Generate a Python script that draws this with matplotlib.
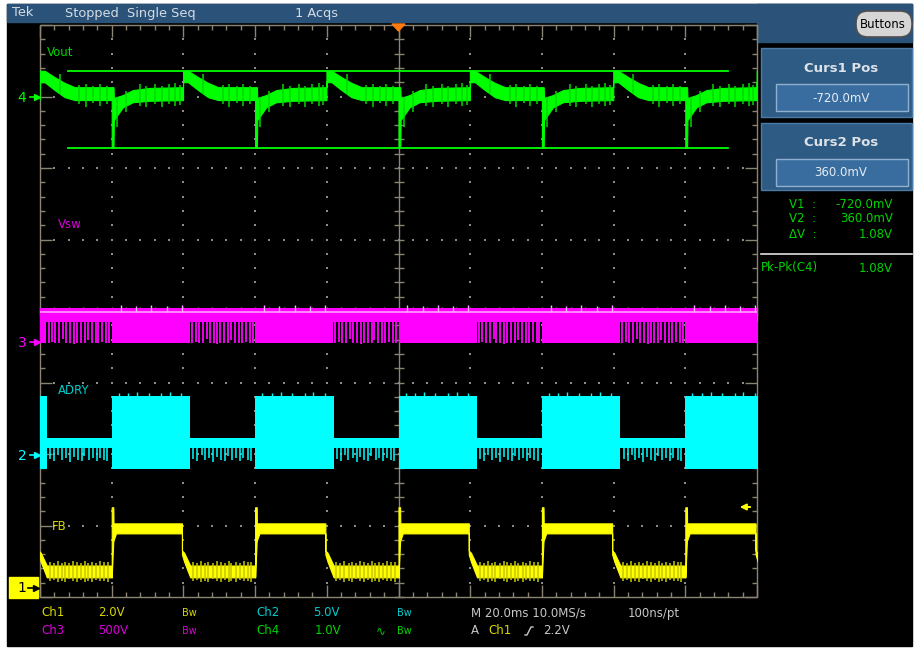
import matplotlib
matplotlib.use("Agg")
import matplotlib.pyplot as plt
from matplotlib.patches import Rectangle, FancyBboxPatch, Polygon

# ---------------- data ----------------
burst_start_ms = [-120, -80, -40, 0, 40, 80]     # start of each drive burst (ms from trigger)

# Ch4  Vout (AC, V) : envelope of one period, time relative to burst start
vout_t     = [0.0, 0.0, 0.5, 0.6, 3.1, 5.9, 10.6, 19.9, 19.9, 21.3, 24.1, 26.9, 29.7, 40.0]
vout_upper = [0.13, 0.13, 0.13, -0.02, 0.02, 0.09, 0.12, 0.13, 0.36, 0.36, 0.27, 0.19, 0.13, 0.13]
vout_lower = [-0.05, -0.72, -0.72, -0.33, -0.15, -0.08, -0.06, -0.05, 0.20, 0.20, 0.09, -0.01, -0.05, -0.05]
vout_noise_t  = [1.5, 4.0, 7.8, 9.6, 12.2, 13.9, 16.0, 17.7, 19.0, 25.5, 31.0, 32.8, 34.9, 36.6, 38.6]
vout_noise_hi = [0.0, 0.08, 0.17, 0.14, 0.18, 0.15, 0.17, 0.19, 0.16, 0.31, 0.16, 0.18, 0.14, 0.17, 0.15]
vout_noise_lo = [-0.42, -0.22, -0.13, -0.15, -0.11, -0.14, -0.10, -0.13, -0.12, 0.04, -0.11, -0.14, -0.09, -0.13, -0.11]
cursor_v = [-0.72, 0.36]

# Ch3  Vsw (V)
vsw_full_end = 21.8
vsw_top, vsw_line, vsw_mid, vsw_bottom = 235, 208, 138, -10
vsw_stripe_t = [22.4, 23.4, 24.3, 25.4, 26.5, 27.3, 28.4, 29.5, 30.3, 31.4,
                32.5, 33.3, 34.4, 35.5, 36.3, 37.4, 38.5, 39.3]
vsw_stripe_lo = [-10, -5, -12, -10, 20, -8, -10, -14, -6, -10,
                 -10, 10, -12, -8, -10, -5, -12, -10]
vsw_tick_t = [2.5, 6.8, 11.0, 15.3, 19.5]
vsw_tick_hi = [255, 250, 258, 252, 256]

# Ch2  ADRV (V)
adrv_block_end = 21.9
adrv_top, adrv_bottom = 4.09, -1.08
adrv_band_hi, adrv_band_lo = 1.15, 0.45
adrv_spike_t  = [22.8, 23.9, 25.1, 26.0, 27.2, 28.3, 29.4, 30.5, 31.6, 32.4, 33.6, 34.7, 35.8, 36.7, 37.9, 38.8]
adrv_spike_lo = [-0.35, -0.5, -0.1, -0.45, -0.3, -0.55, -0.2, -0.4, -0.5, -0.15, -0.45, -0.3, -0.52, -0.25, -0.4, -0.5]
adrv_top_spike_t = [2.0, 4.6, 7.1, 10.3, 13.8, 16.2, 19.4]
adrv_top_spike_hi = [4.3, 4.25, 4.35, 4.3, 4.28, 4.33, 4.3]

# Ch1  FB (V)
fb_t     = [0.0, 0.0, 0.45, 0.5, 1.2, 19.6, 19.6, 20.2, 21.9, 40.0]
fb_upper = [0.64, 2.27, 2.27, 1.82, 1.82, 1.82, 1.06, 1.0, 0.64, 0.64]
fb_lower = [0.31, 0.31, 1.34, 1.34, 1.54, 1.54, 0.95, 0.75, 0.31, 0.31]
fb_noise_t  = [22.7, 23.8, 24.9, 26.1, 27.0, 28.2, 29.3, 30.4, 31.5, 32.6, 33.4, 34.6, 35.7, 36.8, 37.9, 38.9]
fb_noise_hi = [0.74, 0.70, 0.76, 0.72, 0.75, 0.70, 0.77, 0.73, 0.71, 0.76, 0.72, 0.74, 0.70, 0.77, 0.73, 0.75]
fb_noise_lo = [0.20, 0.24, 0.18, 0.22, 0.19, 0.25, 0.20, 0.17, 0.23, 0.19, 0.22, 0.18, 0.24, 0.20, 0.21, 0.19]

# channel scale settings: ground position (div from centre), volts/div
ch_ground = {1: -3.88, 2: -2.0, 3: -0.43, 4: 3.0}
ch_vpd = {1: 2.0, 2: 5.0, 3: 500.0, 4: 1.0}

# ---------------- figure ----------------
W, H = 914, 653
fig = plt.figure(figsize=(W / 100, H / 100), dpi=100)
fig.patch.set_facecolor('white')
bg = fig.add_axes([0, 0, 1, 1])
bg.set_xlim(0, W)
bg.set_ylim(H, 0)
bg.axis('off')

SX0, SX1, SY0, SY1 = 40, 757, 25, 597
DX = (SX1 - SX0) / 10.0
DY = (SY1 - SY0) / 8.0

BLUE = '#2b5279'
GRID = '#8c8472'
GREEN, MAG, CYAN, YEL = '#00ff00', '#ff00ff', '#00ffff', '#ffff00'
TGREEN, TMAG, TCYAN, TYEL, TGREY = '#00d400', '#d800d8', '#00cccc', '#d8d800', '#c8c8c8'
FONT = 'DejaVu Sans'

bg.add_patch(Rectangle((7, 4), 905, 642, color='black', zorder=0))
bg.add_patch(Rectangle((7, 4), 905, 18, color=BLUE, zorder=1))
bg.add_patch(Rectangle((757, 4), 155, 38, color=BLUE, zorder=1))

# top bar text
for x, s in [(12, 'Tek'), (65, 'Stopped  Single Seq'), (295, '1 Acqs')]:
    bg.text(x, 13, s, color='#d4dce4', fontsize=9.3, family=FONT, va='center', ha='left')
# Buttons pill
bg.add_patch(FancyBboxPatch((856, 11), 56, 26, boxstyle='round,pad=0,rounding_size=12',
                            fc='#d6d6d6', ec='#505050', lw=1.2, zorder=2))
bg.text(883, 24.5, 'Buttons', color='black', fontsize=8.5, family=FONT, va='center', ha='center', zorder=3)

# cursor panels
for (top, bot, title, val) in [(48, 117, 'Curs1 Pos', '-720.0mV'), (123, 190, 'Curs2 Pos', '360.0mV')]:
    bg.add_patch(Rectangle((761, top), 151, bot - top, fc='#2e5b84', ec='#4a7aa6', lw=1, zorder=1))
    ib = top + 36
    bg.add_patch(Rectangle((776, ib), 132, 27, fc='#3a6d9f', ec='#8fb0d0', lw=1, zorder=2))
    bg.text(841, top + 20, title, color='#dde2e8', fontsize=9.5, fontweight='bold',
            family=FONT, va='center', ha='center', zorder=3)
    bg.text(841, ib + 14, val, color='#e4ecf4', fontsize=8.5, family=FONT, va='center', ha='center', zorder=3)

for y, a, b in [(204, 'V1  :', '-720.0mV'), (219, 'V2  :', '360.0mV'), (234, '\u0394V  :', '1.08V')]:
    bg.text(789, y, a, color=TGREEN, fontsize=8.5, family=FONT, va='center', ha='left')
    bg.text(893, y, b, color=TGREEN, fontsize=8.5, family=FONT, va='center', ha='right')
bg.plot([761, 912], [254, 254], color='#e0e0e0', lw=1.2)
bg.text(761, 268, 'Pk-Pk(C4)', color=TGREEN, fontsize=8.5, family=FONT, va='center', ha='left')
bg.text(893, 268, '1.08V', color=TGREEN, fontsize=8.5, family=FONT, va='center', ha='right')

# ---------------- graticule ----------------
gkw = dict(color=GRID, lw=1.0, solid_capstyle='butt', zorder=2)
bg.plot([SX0, SX1, SX1, SX0, SX0], [SY0, SY0, SY1, SY1, SY0], **gkw)
xc = SX0 + 5 * DX
yc = SY0 + 4 * DY
bg.plot([xc, xc], [SY0, SY1], **gkw)
bg.plot([SX0, SX1], [yc, yc], **gkw)
for k in range(51):
    x = SX0 + k * DX / 5
    L = 12 if k % 5 == 0 else 5
    bg.plot([x, x], [SY0, SY0 + L], **gkw)
    bg.plot([x, x], [SY1, SY1 - L], **gkw)
    bg.plot([x, x], [yc - 4, yc + 4], **gkw)
for k in range(41):
    y = SY0 + k * DY / 5
    L = 12 if k % 5 == 0 else 5
    bg.plot([SX0, SX0 + L], [y, y], **gkw)
    bg.plot([SX1, SX1 - L], [y, y], **gkw)
    bg.plot([xc - 5, xc + 5], [y, y], **gkw)
dx, dy = [], []
for i in range(1, 10):
    if i == 5:
        continue
    for k in range(1, 40):
        dx.append(SX0 + i * DX)
        dy.append(SY0 + k * DY / 5)
for j in range(1, 8):
    if j == 4:
        continue
    for k in range(1, 50):
        dx.append(SX0 + k * DX / 5)
        dy.append(SY0 + j * DY)
bg.scatter(dx, dy, s=0.9, marker='s', color='#8a8a8a', lw=0, zorder=2)

# trigger position marker
bg.add_patch(Polygon([(392, 24), (405, 24), (398.5, 31)], closed=True, color='#ff7a10', zorder=4))

# channel ground markers
def marker(y, label, color, box=False):
    if box:
        bg.add_patch(Rectangle((9, y - 11), 29, 21, color=YEL, zorder=3))
        bg.text(22, y, label, color='black', fontsize=10, family=FONT, va='center', ha='center', zorder=4)
        bg.plot([28, 35], [y, y], color='black', lw=1.2, zorder=4)
        bg.plot([36], [y], marker='>', ms=4, color='black', zorder=4)
    else:
        bg.text(22, y + 1, label, color=color, fontsize=10, family=FONT, va='center', ha='center')
        bg.plot([30, 36], [y, y], color=color, lw=1.2)
        bg.plot([37], [y], marker='>', ms=4, color=color)

marker(97, '4', GREEN)
marker(342, '3', MAG)
marker(455, '2', CYAN)
marker(588, '1', YEL, box=True)

# trace labels
bg.text(47, 52, 'Vout', color=TGREEN, fontsize=8.5, family=FONT, va='center', zorder=5)
bg.text(58, 225, 'Vsw', color=TMAG, fontsize=8.5, family=FONT, va='center', zorder=5)
bg.text(58, 391, 'ADRY', color=TCYAN, fontsize=8.5, family=FONT, va='center', zorder=5)
bg.text(52, 527, 'FB', color=TYEL, fontsize=8.5, family=FONT, va='center', zorder=5)

# trigger level arrow (yellow)
bg.annotate('', xy=(737, 507), xytext=(753, 507),
            arrowprops=dict(arrowstyle='-|>', color=YEL, lw=1.4, mutation_scale=9), zorder=5)

# bottom readouts
rows = [
    (613, [(41, 'Ch1', TYEL), (98, '2.0V', TYEL), (182, 'Bw', TYEL), (256, 'Ch2', TCYAN),
           (313, '5.0V', TCYAN), (397, 'Bw', TCYAN), (471, 'M 20.0ms 10.0MS/s', TGREY), (628, '100ns/pt', TGREY)]),
    (631, [(41, 'Ch3', TMAG), (98, '500V', TMAG), (182, 'Bw', TMAG), (256, 'Ch4', TGREEN),
           (315, '1.0V', TGREEN), (376, '\u223f', TGREEN), (397, 'Bw', TGREEN), (471, 'A', TGREY),
           (488, 'Ch1', TYEL), (543, '2.2V', TGREY)]),
]
for y, items in rows:
    for x, s, c in items:
        fs = 7 if s == 'Bw' else 8.5
        bg.text(x, y, s, color=c, fontsize=fs, family=FONT, va='center', ha='left')
bg.plot([525, 527, 531, 533], [635, 635, 627, 627], color=TGREY, lw=1)

# ---------------- traces ----------------
ax = fig.add_axes([SX0 / W, 1 - SY1 / H, (SX1 - SX0) / W, (SY1 - SY0) / H])
ax.set_xlim(-100, 100)
ax.set_ylim(-4, 4)
ax.patch.set_alpha(0)
ax.axis('off')

def dv(ch, v):
    return [ch_ground[ch] + x / ch_vpd[ch] for x in v] if isinstance(v, list) else ch_ground[ch] + v / ch_vpd[ch]

# Ch3 Vsw
ax.fill_between([-100, 100], dv(3, vsw_mid), dv(3, vsw_top), color=MAG, lw=0, zorder=3)
ax.plot([-100, 100], [dv(3, vsw_line)] * 2, color='#ffa0ff', lw=1.2, zorder=4)
for t0 in burst_start_ms:
    ax.fill_between([t0, t0 + vsw_full_end], dv(3, vsw_bottom), dv(3, vsw_mid), color=MAG, lw=0, zorder=3)
    ax.vlines([t0 + s for s in vsw_stripe_t], dv(3, vsw_stripe_lo), dv(3, vsw_mid),
              color=MAG, lw=1.3, zorder=3)
    ax.vlines([t0 + s for s in vsw_tick_t], dv(3, vsw_line), dv(3, vsw_tick_hi),
              color='#ffb0ff', lw=1.0, zorder=4)

# Ch2 ADRV
ax.fill_between([-100, 100], dv(2, adrv_band_lo), dv(2, adrv_band_hi), color=CYAN, lw=0, zorder=3)
for t0 in burst_start_ms:
    ax.fill_between([t0, t0 + adrv_block_end], dv(2, adrv_bottom), dv(2, adrv_top), color=CYAN, lw=0, zorder=3)
    ax.vlines([t0 + s for s in adrv_spike_t], dv(2, adrv_spike_lo), dv(2, adrv_band_lo),
              color=CYAN, lw=1.1, zorder=3)
    ax.vlines([t0 + s for s in adrv_top_spike_t], dv(2, adrv_top), dv(2, adrv_top_spike_hi),
              color=CYAN, lw=1.0, zorder=3)

# Ch1 FB
for t0 in burst_start_ms:
    tt = [t0 + s for s in fb_t]
    ax.fill_between(tt, dv(1, fb_lower), dv(1, fb_upper), color=YEL, lw=0.8, edgecolor=YEL, zorder=3)
    ax.vlines([t0 + s for s in fb_noise_t], dv(1, fb_noise_lo), dv(1, fb_noise_hi),
              color='#c8c800', lw=1.1, zorder=3)

# Ch4 Vout
for t0 in burst_start_ms:
    tt = [t0 + s for s in vout_t]
    ax.fill_between(tt, dv(4, vout_lower), dv(4, vout_upper), color=GREEN, lw=0.8, edgecolor=GREEN, zorder=3)
    ax.vlines([t0 + s for s in vout_noise_t], dv(4, vout_noise_lo), dv(4, vout_noise_hi),
              color='#00d800', lw=1.1, zorder=3)

# cursors
for v in cursor_v:
    ax.plot([-92.2, 91.9], [dv(4, v)] * 2, color=GREEN, lw=1.3, zorder=4)

fig.savefig('out.png', dpi=100, facecolor='white')
